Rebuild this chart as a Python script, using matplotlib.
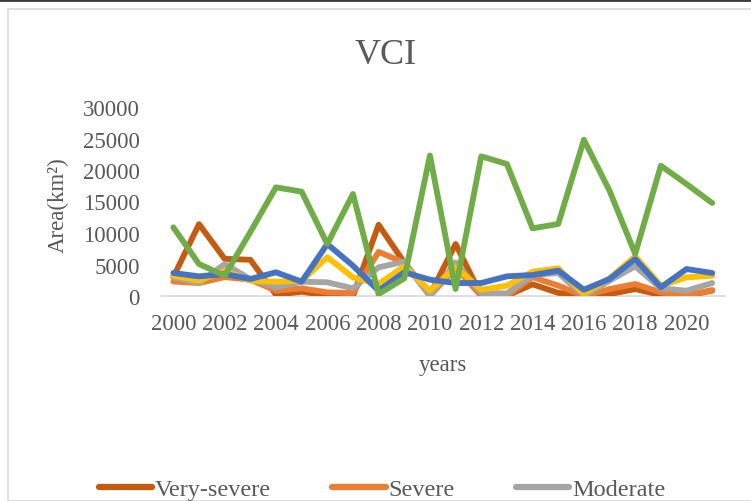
import matplotlib
matplotlib.use("Agg")
import matplotlib.pyplot as plt
from matplotlib.lines import Line2D
from matplotlib.patches import Rectangle

plt.rcParams['font.family'] = ['Liberation Serif', 'DejaVu Serif']

years = list(range(2000, 2022))
very_severe = [3000, 11400, 5900, 5750, 200, 680, 100, 0, 11300, 5300, 200, 8250,
               100, 50, 1850, 500, 0, 300, 1100, 160, 50, 850]
severe = [2300, 2050, 3000, 2600, 850, 1220, 580, 470, 7000, 5300, 0, 4500,
          0, 0, 3000, 1650, 0, 1100, 1900, 580, 50, 950]
moderate = [2950, 2050, 5080, 2700, 1380, 2270, 2170, 1220, 4550, 5450, 0, 5340,
            470, 420, 3330, 3650, 0, 2430, 4710, 1220, 840, 2060]
mild = [3220, 2430, 4020, 2430, 2270, 2430, 6140, 2960, 1900, 4710, 840, 4550,
        1000, 1640, 3860, 4390, 320, 2800, 6300, 1640, 2960, 3220]
blue_series = [3650, 3120, 3490, 2700, 3760, 2270, 8250, 4810, 840, 3760, 2590, 2060,
               2060, 3120, 3330, 4020, 1000, 2700, 5870, 1380, 4280, 3650]
green_series = [10900, 5080, 3220, 10150, 17250, 16560, 8250, 16190, 300, 2800, 22300, 1110,
                22170, 20950, 10740, 11430, 24800, 16710, 6670, 20680, 17770, 14760]
yticks = [0, 5000, 10000, 15000, 20000, 25000, 30000]
xtick_years = list(range(2000, 2021, 2))
legend_labels = ['Very-severe', 'Severe', 'Moderate']

W, H = 751, 502
fig = plt.figure(figsize=(W / 100, H / 100), dpi=100)
fig.patch.set_facecolor('white')

# chart frame
fig.add_artist(Rectangle((8 / W, 0), 1.2, 1 - 10 / H, transform=fig.transFigure,
                         fill=False, edgecolor='#D9D9D9', linewidth=1.2))
fig.add_artist(Line2D([0, 1], [1 - 1 / H, 1 - 1 / H], transform=fig.transFigure,
                      color='#3A3A3A', linewidth=2))

ax = fig.add_axes([160.5 / W, 1 - 297 / H, (725 - 160.5) / W, (297 - 108) / H])
idx = list(range(len(years)))
colors = ['#C55A11', '#ED7D31', '#A5A5A5', '#FFC000', '#4472C4', '#70AD47']
series = [very_severe, severe, moderate, mild, blue_series, green_series]
for s, c in zip(series, colors):
    ax.plot(idx, s, color=c, linewidth=4.2, solid_joinstyle='round', solid_capstyle='round')

ax.set_xlim(-0.5, len(years) - 0.5)
ax.set_ylim(0, 30000)
ax.set_yticks(yticks)
ax.set_yticklabels([str(v) for v in yticks])
ax.set_xticks([years.index(y) for y in xtick_years])
ax.set_xticklabels([str(y) for y in xtick_years])
for sp in ['top', 'right', 'left']:
    ax.spines[sp].set_visible(False)
ax.spines['bottom'].set_color('#D9D9D9')
ax.spines['bottom'].set_linewidth(1.2)
ax.spines['bottom'].set_zorder(0)
ax.tick_params(axis='both', length=0, labelsize=16.5, labelcolor='#595959')
ax.tick_params(axis='x', pad=12)
ax.tick_params(axis='y', pad=15)

fig.text(386 / W, 1 - 55 / H, 'VCI', ha='center', va='center', fontsize=26, color='#595959')
fig.text(443 / W, 1 - 366 / H, 'years', ha='center', va='center', fontsize=16.5, color='#595959')
fig.text(58 / W, 1 - 205 / H, 'Area(km²)', ha='center', va='center', rotation=90,
         fontsize=16.5, color='#595959')

handles = [Line2D([0], [0], color=c, linewidth=4.5, solid_capstyle='round') for c in colors[:3]]
fig.legend(handles, legend_labels, loc='center', bbox_to_anchor=(382 / W, 1 - 490 / H),
           ncol=3, frameon=False, fontsize=17.5, labelcolor='#595959',
           handlelength=2.2, handletextpad=0.12, columnspacing=2.5, borderpad=0)

fig.savefig('out.png', dpi=100)
